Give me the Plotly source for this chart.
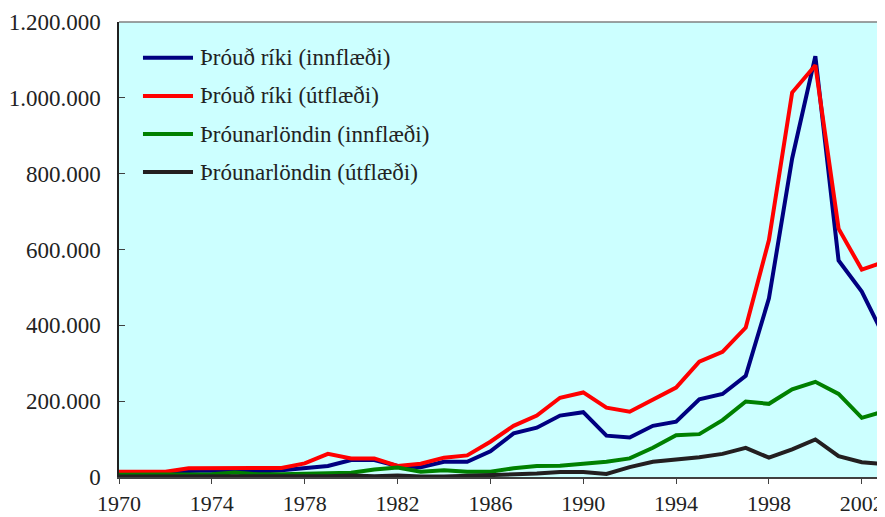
import plotly.graph_objects as go

# Ár
years = list(range(1970, 2004))

# Þróuð ríki (innflæði)
developed_in = [10000, 10000, 11000, 16000, 17000, 15000, 14000, 18000, 24000, 29000,
                45000, 45000, 29000, 26000, 40000, 40000, 68000, 115000, 130000, 162000,
                171000, 109000, 104000, 135000, 146000, 205000, 219000, 267000, 471000, 840000,
                1110000, 571000, 489000, 366000]

# Þróuð ríki (útflæði)
developed_out = [14000, 14000, 14000, 23000, 23000, 23000, 23000, 24000, 36000, 61000,
                 49000, 49000, 29000, 35000, 51000, 57000, 93000, 135000, 162000, 209000,
                 223000, 183000, 172000, 205000, 236000, 304000, 330000, 394000, 625000, 1014000,
                 1086000, 655000, 547000, 568000]

# Þróunarlöndin (innflæði)
developing_in = [6000, 6000, 6000, 7000, 7000, 12000, 7000, 7000, 9000, 10000,
                 11000, 20000, 25000, 14000, 18000, 14000, 14000, 23000, 29000, 30000,
                 34000, 40000, 49000, 77000, 110000, 113000, 150000, 199000, 193000, 231000,
                 251000, 219000, 156000, 174000]

# Þróunarlöndin (útflæði)
developing_out = [1000, 1000, 1000, 1000, 2000, 2000, 2000, 2000, 2000, 2000,
                  4000, 2000, 4000, 1000, 1000, 3000, 3000, 5000, 9000, 13000,
                  13000, 8000, 26000, 40000, 46000, 52000, 61000, 77000, 51000, 73000,
                  99000, 55000, 39000, 34000]

series = [
    ('Þróuð ríki (innflæði)', developed_in, '#000080'),
    ('Þróuð ríki (útflæði)', developed_out, '#FF0000'),
    ('Þróunarlöndin (innflæði)', developing_in, '#008000'),
    ('Þróunarlöndin (útflæði)', developing_out, '#231F20'),
]

FONT = 'Liberation Serif'
TXT = '#222222'

fig = go.Figure()
for name, vals, color in series:
    fig.add_trace(go.Scatter(
        x=years, y=vals, name=name, mode='lines',
        line=dict(color=color, width=4),
    ))

# Skýringar (legend) teiknaðar inni á teiknisvæðinu
legend_y = [0.9215, 0.8374, 0.7538, 0.6703]
for (name, vals, color), ly in zip(series, legend_y):
    fig.add_shape(type='line', xref='paper', yref='paper',
                  x0=0.0313, x1=0.0966, y0=ly, y1=ly,
                  line=dict(color=color, width=4))
    fig.add_annotation(xref='paper', yref='paper', x=0.1030, y=ly,
                       xanchor='left', yanchor='middle', showarrow=False,
                       text=name, font=dict(family=FONT, size=23, color=TXT))

# grá lína efst á teiknisvæði
fig.add_shape(type='line', xref='paper', yref='paper', x0=0, x1=1, y0=1, y1=1,
              line=dict(color='#808080', width=1.5))

fig.update_layout(
    width=885, height=517,
    margin=dict(l=111, r=8, t=14, b=48),
    paper_bgcolor='white',
    plot_bgcolor='#CCFFFF',
    separators=',.',
    font=dict(family=FONT, size=23, color=TXT),
    showlegend=False,
    xaxis=dict(
        range=[1970, 2003], tickmode='linear', tick0=1970, dtick=4,
        showgrid=False, zeroline=False, automargin=False,
        showline=True, linecolor='#404040', linewidth=1.5,
        ticks='outside', ticklen=5, tickcolor='#404040',
        ticklabelstandoff=1, tickfont=dict(size=22),
    ),
    yaxis=dict(
        range=[0, 1200000], tickmode='linear', tick0=0, dtick=200000,
        tickformat=',d',
        showgrid=False, zeroline=False, automargin=False,
        showline=True, linecolor='#202020', linewidth=1.5,
        ticks='inside', ticklen=6, tickcolor='#404040',
        ticklabelstandoff=12,
    ),
)

fig.write_html('out.html')
